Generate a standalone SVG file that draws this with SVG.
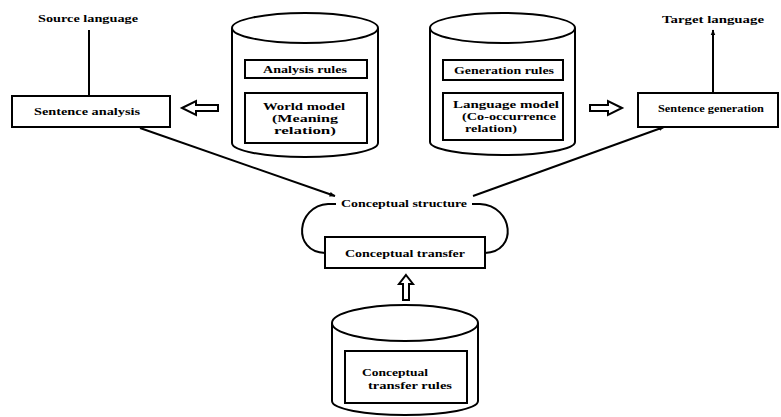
<svg xmlns="http://www.w3.org/2000/svg" width="781" height="417" viewBox="0 0 781 417">
<style>
.s{fill:none;stroke:#000;stroke-width:2}
.b{fill:#fff;stroke:#000;stroke-width:2}
.t{font-family:"Liberation Serif","Times New Roman",serif;font-size:11px;fill:#000;font-weight:bold}
.m{font-size:10px}
.c{text-anchor:middle}
</style>
<defs>
<marker id="ah" viewBox="0 0 10 10" refX="9" refY="5" markerWidth="6" markerHeight="6" orient="auto" markerUnits="userSpaceOnUse"><path d="M0,1 L10,5 L0,9 z" fill="#000"/></marker>
</defs>
<rect width="781" height="417" fill="#fff"/>

<g id="source-language"><text class="t c" x="88" y="22" textLength="100" lengthAdjust="spacingAndGlyphs">Source language</text></g>
<g id="target-language"><text class="t c" x="713" y="23" textLength="102" lengthAdjust="spacingAndGlyphs">Target language</text></g>

<g id="sentence-analysis">
<rect class="b" x="12" y="96" width="158" height="31"/>
<text class="t c" x="87" y="115" textLength="106" lengthAdjust="spacingAndGlyphs">Sentence analysis</text>
</g>

<g id="sentence-generation">
<rect class="b" x="638" y="93" width="140" height="34"/>
<text class="t c" x="711" y="112" textLength="106" lengthAdjust="spacingAndGlyphs">Sentence generation</text>
</g>

<g id="analysis-db">
<path class="b" d="M232,28 L232,143 A73,14 0 0 0 378,143 L378,28"/>
<ellipse class="b" cx="305" cy="28" rx="73" ry="15"/>
<rect class="b" x="245" y="60" width="122" height="18"/>
<text class="t c" x="305" y="73" textLength="84" lengthAdjust="spacingAndGlyphs">Analysis rules</text>
<rect class="b" x="245" y="93" width="122" height="50"/>
<text class="t m c" x="304" y="110" textLength="82" lengthAdjust="spacingAndGlyphs">World model</text>
<text class="t m c" x="305" y="122" textLength="66" lengthAdjust="spacingAndGlyphs">(Meaning</text>
<text class="t m c" x="305" y="134" textLength="62" lengthAdjust="spacingAndGlyphs">relation)</text>
</g>

<g id="generation-db">
<path class="b" d="M430,28 L430,142 A72.5,13 0 0 0 575,142 L575,28"/>
<ellipse class="b" cx="502.5" cy="28" rx="72.5" ry="15"/>
<rect class="b" x="443" y="60" width="120" height="20"/>
<text class="t c" x="504" y="74" textLength="100" lengthAdjust="spacingAndGlyphs">Generation rules</text>
<rect class="b" x="443" y="93" width="120" height="47"/>
<text class="t m" x="453" y="108" textLength="106" lengthAdjust="spacingAndGlyphs">Language model</text>
<text class="t m" x="462" y="120" textLength="94" lengthAdjust="spacingAndGlyphs">(Co-occurrence</text>
<text class="t m" x="465" y="132" textLength="52" lengthAdjust="spacingAndGlyphs">relation)</text>
</g>

<g id="conceptual-structure">
<text class="t c" x="404" y="207" textLength="126" lengthAdjust="spacingAndGlyphs">Conceptual structure</text>
</g>

<g id="conceptual-transfer">
<rect class="b" x="325" y="237" width="160" height="31"/>
<text class="t c" x="405" y="257" textLength="120" lengthAdjust="spacingAndGlyphs">Conceptual transfer</text>
</g>

<g id="transfer-db">
<path class="b" d="M332,323 L332,401 A73,14 0 0 0 478,401 L478,323"/>
<ellipse class="b" cx="405" cy="323" rx="73" ry="18"/>
<rect class="b" x="345" y="351" width="122" height="52"/>
<text class="t m" x="362" y="376" textLength="66" lengthAdjust="spacingAndGlyphs">Conceptual</text>
<text class="t m" x="368" y="389" textLength="84" lengthAdjust="spacingAndGlyphs">transfer rules</text>
</g>

<g id="connectors">
<line class="s" x1="89" y1="30" x2="89" y2="96"/>
<line class="s" x1="713" y1="93" x2="713" y2="30" marker-end="url(#ah)"/>
<line class="s" x1="140" y1="128" x2="335" y2="196" marker-end="url(#ah)"/>
<line class="s" x1="473" y1="196" x2="664" y2="127" marker-end="url(#ah)"/>
<path class="s" d="M336,204 L328,204 C296,206 292,252 325,253"/>
<path class="s" d="M472,204 L480,204 C514,206 518,252 485,253"/>
<path class="b" d="M182,108 L196,101 L196,105 L218,105 L218,111 L196,111 L196,115 Z" stroke-width="1.8"/>
<path class="b" d="M622,108 L608,101 L608,105 L590,105 L590,111 L608,111 L608,115 Z" stroke-width="1.8"/>
<path class="b" d="M406,275 L413,284 L409,284 L409,300 L403,300 L403,284 L399,284 Z" stroke-width="1.8"/>
</g>
</svg>
